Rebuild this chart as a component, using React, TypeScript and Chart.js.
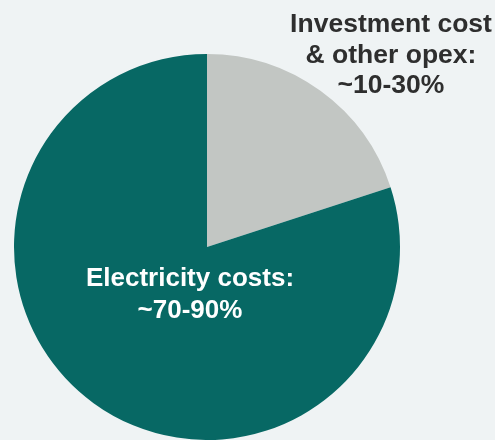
import React, { useEffect, useRef } from "react";
import { Chart, registerables } from "chart.js";

Chart.register(...registerables);

const categories = ["Investment cost & other opex", "Electricity costs"];
const shares = [20, 80];
const sliceColors = ["#c2c6c3", "#076864"];
const topLabelLines = ["Investment cost", "& other opex:", "~10-30%"];
const innerLabelLines = ["Electricity costs:", "~70-90%"];

const labelPlugin = {
  id: "sliceLabels",
  afterDraw(chart: any) {
    const ctx = chart.ctx;
    ctx.save();
    ctx.textAlign = "center";
    ctx.textBaseline = "alphabetic";
    ctx.font = "bold 26.5px 'Liberation Sans', Arial, sans-serif";
    ctx.fillStyle = "#2e2e2e";
    topLabelLines.forEach((t, i) => ctx.fillText(t, 391, 32 + i * 30.5));
    ctx.font = "bold 26px 'Liberation Sans', Arial, sans-serif";
    ctx.fillStyle = "#ffffff";
    innerLabelLines.forEach((t, i) => ctx.fillText(t, 190, 286 + i * 32));
    ctx.restore();
  },
};

export default function App() {
  const ref = useRef<HTMLCanvasElement | null>(null);
  useEffect(() => {
    if (!ref.current) return;
    const chart = new Chart(ref.current, {
      type: "pie",
      data: {
        labels: categories,
        datasets: [
          {
            data: shares,
            backgroundColor: sliceColors,
            borderWidth: 0,
          },
        ],
      },
      options: {
        animation: false,
        responsive: false,
        maintainAspectRatio: false,
        layout: { padding: { left: 14, right: 95, top: 54, bottom: 0 } },
        plugins: {
          legend: { display: false },
          tooltip: { enabled: false },
        },
      },
      plugins: [labelPlugin],
    });
    return () => chart.destroy();
  }, []);
  return (
    <div
      style={{
        position: "fixed",
        left: 0,
        top: 0,
        width: 495,
        height: 440,
        background: "#eff3f4",
        overflow: "hidden",
      }}
    >
      <canvas ref={ref} width={495} height={440} style={{ display: "block" }} />
    </div>
  );
}
